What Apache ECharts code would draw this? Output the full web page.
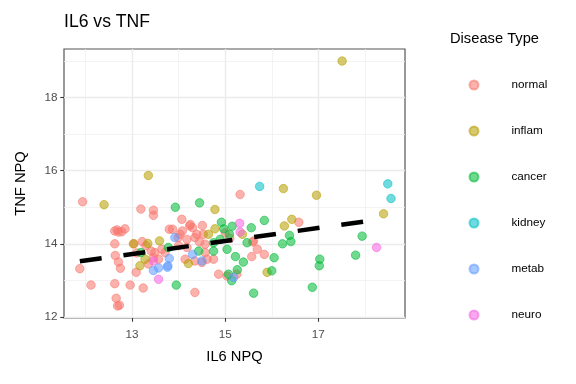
<!DOCTYPE html>
<html><head><meta charset="utf-8">
<script src="https://cdn.jsdelivr.net/npm/echarts@6/dist/echarts.min.js"></script>
<style>html,body{margin:0;padding:0;background:#fff}#c{width:576px;height:384px}</style>
</head><body><div id="c"></div>
<script>
const categories = ['normal','inflam','cancer','kidney','metab','neuro'];
const colors = ['248,118,109','183,159,0','0,186,56','0,191,196','97,156,255','245,100,227'];
const xTicks = [13,15,17];
const xMinor = [12,14,16,18];
const yTicks = [12,14,16,18];
const yMinor = [13,15,17,19];

const normalPts = [[11.94,15.15],[11.88,13.32],[12.12,12.87],[12.63,12.91],[12.66,12.51],[12.73,12.32],[12.69,12.30],[12.63,14.0],[12.64,13.68],[12.71,13.50],[12.75,13.33],[12.63,14.35],[12.71,14.32],[12.78,14.33],[12.85,14.41],[12.68,14.38],[12.96,12.87],[13.04,14.0],[13.09,13.22],[13.19,14.95],[13.22,14.06],[13.24,12.79],[13.46,14.92],[13.46,14.78],[13.41,13.80],[13.49,13.76],[13.46,13.62],[13.64,13.85],[13.71,13.76],[13.57,13.58],[13.80,14.40],[13.87,14.40],[14.07,14.67],[14.03,14.26],[14.08,14.35],[14.18,14.12],[14.24,14.49],[14.30,14.44],[14.25,14.53],[14.51,14.50],[14.35,14.17],[14.39,14.26],[14.53,14.26],[13.99,14.17],[14.18,13.90],[14.57,13.76],[14.57,13.99],[14.14,13.58],[14.35,13.53],[14.50,13.49],[14.61,13.58],[14.75,13.58],[14.35,12.67],[14.86,13.17],[15.04,13.12],[15.32,15.35],[15.25,13.17],[15.61,14.08],[15.69,13.85],[15.84,13.71],[15.57,13.65],[15.59,14.05],[16.58,14.59],[14.0,13.95],[14.45,14.05],[15.0,14.30],[15.1,14.15],[13.3,13.95],[13.1,13.75],[13.35,13.45]];
const inflamPts = [[17.51,19.0],[12.40,15.07],[13.35,15.87],[13.03,14.0],[13.34,14.01],[13.59,14.08],[13.17,13.40],[13.28,13.58],[14.78,14.94],[14.64,14.26],[14.78,14.41],[14.21,13.46],[15.37,14.26],[15.90,13.22],[16.25,15.51],[16.96,15.33],[16.43,14.67],[16.27,14.49],[18.40,14.82]];
const cancerPts = [[13.93,15.0],[13.78,13.9],[13.19,13.76],[13.95,12.87],[14.45,15.12],[14.92,14.59],[14.97,14.41],[15.15,14.48],[15.09,14.26],[14.89,14.12],[14.75,14.03],[14.43,13.80],[14.75,13.80],[15.04,13.85],[15.47,14.03],[15.56,14.44],[15.84,14.64],[15.22,13.65],[15.39,13.50],[15.26,13.29],[15.07,13.17],[15.14,12.99],[15.61,12.65],[16.05,13.62],[16.0,13.26],[16.38,14.23],[16.41,14.06],[16.23,14.0],[17.94,14.21],[17.80,13.69],[17.03,13.58],[17.02,13.40],[16.87,12.81]];
const kidneyPts = [[15.74,15.57],[18.49,15.64],[18.56,15.24]];
const metabPts = [[13.46,13.27],[13.57,13.34],[13.76,13.36],[13.80,13.60],[13.92,14.17],[14.30,13.71],[13.77,13.40],[15.18,13.08],[14.50,13.53]];
const neuroPts = [[13.46,13.53],[13.57,13.03],[15.31,14.56],[15.32,14.32],[18.25,13.90]];
const fitX = [11.88, 18.16];
const fitY = [13.52, 14.64];

const groups = [normalPts, inflamPts, cancerPts, kidneyPts, metabPts, neuroPts];
const FONT = 'Liberation Sans, Arial, sans-serif';

const chart = echarts.init(document.getElementById('c'), null, {renderer:'canvas'});
const scatterSeries = categories.map((name,i)=>({
  name, type:'scatter', xAxisIndex:0, yAxisIndex:0,
  data: groups[i], symbol:'circle', symbolSize:8.5,
  itemStyle:{color:'rgba('+colors[i]+',0.7)', borderColor:'rgba('+colors[i]+',0.7)', borderWidth:1},
  emphasis:{disabled:true}, z:3
}));
chart.setOption({
  animation:false,
  backgroundColor:'#fff',
  title:[
    {text:'IL6 vs TNF', left:59, top:8, textStyle:{fontFamily:FONT, fontSize:17.6, fontWeight:'normal', color:'#000'}},
    {text:'Disease Type', left:445, top:26, textStyle:{fontFamily:FONT, fontSize:14.7, fontWeight:'normal', color:'#000'}}
  ],
  legend:{
    orient:'vertical', left:463.5, top:73, data:categories,
    itemWidth:9, itemHeight:9, itemGap:32, icon:'circle',
    textStyle:{fontFamily:FONT, fontSize:11.7, color:'#000', lineHeight:14, padding:[0,0,0,28]},
    selectedMode:false
  },
  grid:{left:64, right:171, top:49, bottom:66, show:true, borderColor:'#555', borderWidth:1.2, backgroundColor:'#fff'},
  xAxis:[
    {type:'value', min:11.54, max:18.86, position:'bottom',
     name:'IL6 NPQ', nameLocation:'middle', nameGap:31,
     nameTextStyle:{fontFamily:FONT, fontSize:14.7, color:'#000'},
     axisLine:{show:false},
     axisTick:{show:true, length:3.7, customValues:xTicks, lineStyle:{color:'#333', width:1.1}},
     axisLabel:{customValues:xTicks, margin:11, fontFamily:FONT, fontSize:11.7, color:'#4D4D4D'},
     splitLine:{show:true, lineStyle:{color:'#EBEBEB', width:1.4}}},
    {type:'value', min:11.54, max:18.86, position:'top',
     axisLine:{show:false}, axisLabel:{show:false},
     axisTick:{show:false, customValues:xMinor},
     splitLine:{show:true, lineStyle:{color:'#F0F0F0', width:0.8}}}
  ],
  yAxis:[
    {type:'value', min:11.97, max:19.33, position:'left',
     name:'TNF NPQ', nameLocation:'middle', nameGap:36, nameRotate:90,
     nameTextStyle:{fontFamily:FONT, fontSize:14.7, color:'#000'},
     axisLine:{show:false},
     axisTick:{show:true, length:3.7, customValues:yTicks, lineStyle:{color:'#333', width:1.1}},
     axisLabel:{customValues:yTicks, margin:6.6, fontFamily:FONT, fontSize:11.7, color:'#4D4D4D'},
     splitLine:{show:true, lineStyle:{color:'#EBEBEB', width:1.4}}},
    {type:'value', min:11.97, max:19.33, position:'right',
     axisLine:{show:false}, axisLabel:{show:false},
     axisTick:{show:false, customValues:yMinor},
     splitLine:{show:true, lineStyle:{color:'#F0F0F0', width:0.8}}}
  ],
  series:[
    ...scatterSeries,
    {name:'fit', type:'line', xAxisIndex:0, yAxisIndex:0,
     data: fitX.map((x,i)=>[x,fitY[i]]), showSymbol:false, symbol:'none',
     lineStyle:{color:'#000', width:4.5, type:[22,22], cap:'butt'},
     emphasis:{disabled:true}, z:5, silent:true}
  ]
});
</script></body></html>
